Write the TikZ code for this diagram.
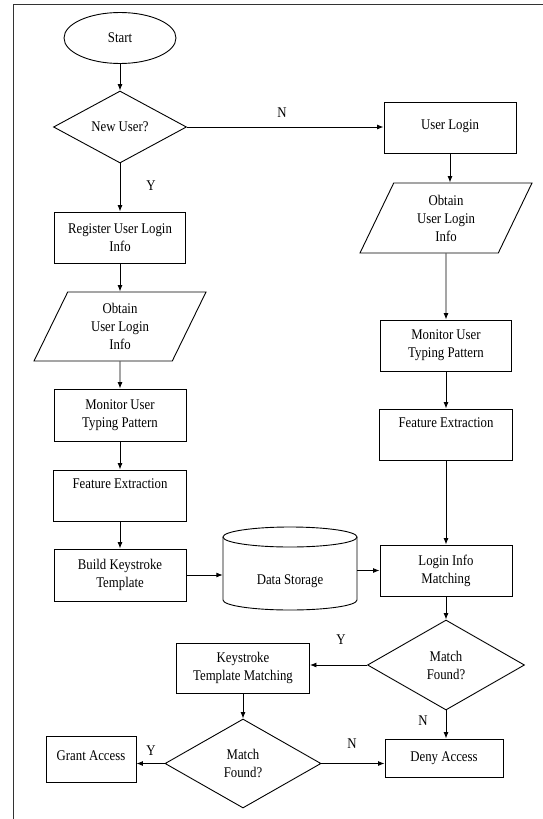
\documentclass[tikz,border=0pt]{standalone}
\usepackage{fontspec}
\setmainfont{Liberation Serif}[FakeStretch=0.865]
\usetikzlibrary{shapes.geometric,arrows.meta}
\begin{document}
\begin{tikzpicture}[x=1pt,y=-1pt,
  every node/.style={font=\fontsize{14.8}{18}\selectfont, inner sep=1pt},
  box/.style={draw, line width=0.9pt, align=center},
  dia/.style={draw, diamond, line width=0.9pt, align=center, inner sep=0pt},
  para/.style={draw, trapezium, trapezium left angle=54, trapezium right angle=126,
    trapezium stretches body, line width=0.9pt, align=center, inner sep=0pt},
  arr/.style={line width=0.9pt, -{Latex[length=6.5pt,width=5pt]}},
  lbl/.style={inner sep=0pt}]
\useasboundingbox (0,0) rectangle (543,819);
\draw[line width=1.1pt, black!80] (543,4.5) -- (13.5,4.5) -- (13.5,819);

\node[draw, ellipse, line width=0.9pt, minimum width=112pt, minimum height=51pt] (start) at (120,38) {Start};
\node[dia, minimum width=133pt, minimum height=72pt] (newu) at (120,127) {New User?};
\node[box, minimum width=132pt, minimum height=51pt] (ulogin) at (450,127.5) {\raisebox{5pt}{User Login}};
\node[para, minimum width=172pt, minimum height=70pt] (rpara) at (446,218) {Obtain\\User Login\\Info};
\node[box, minimum width=131pt, minimum height=51pt] (reg) at (120,237.5) {Register User Login\\Info};
\node[para, minimum width=172pt, minimum height=69pt] (lpara) at (120,326.5) {Obtain\\User Login\\Info};
\node[box, minimum width=132pt, minimum height=52pt] (lmon) at (120,415) {Monitor User\\Typing Pattern};
\node[box, minimum width=131pt, minimum height=51pt] (rmon) at (446,345.5) {Monitor User\\Typing Pattern};
\node[box, minimum width=133pt, minimum height=51pt] (lfeat) at (120,495.5) {Feature Extraction\\\strut};
\node[box, minimum width=133pt, minimum height=51pt] (rfeat) at (446,434.5) {Feature Extraction\\\strut};
\node[box, minimum width=132pt, minimum height=52pt] (build) at (120,575) {Build Keystroke\\Template};
\node[minimum width=134pt, minimum height=83pt, inner sep=0pt] (ds) at (290,568.5) {};
\node (dstext) at (290,581) {Data Storage};
\node[box, minimum width=132pt, minimum height=51pt] (lim) at (446,570.5) {Login Info\\Matching};
\node[dia, minimum width=157pt, minimum height=90pt] (rmf) at (446,665) {Match\\Found?};
\node[box, minimum width=133pt, minimum height=50pt] (ktm) at (243,668) {Keystroke\\Template Matching};
\node[dia, minimum width=156pt, minimum height=89pt] (lmf) at (243,763.5) {Match\\Found?};
\node[box, minimum width=90pt, minimum height=46pt] (grant) at (91,759) {\raisebox{6pt}{Grant Access}};
\node[box, minimum width=118pt, minimum height=38pt] (deny) at (444,758) {Deny Access};

% cylinder
\draw[line width=0.9pt] (290,537) ellipse[x radius=67, y radius=10];
\draw[line width=0.9pt] (223,537) -- (223,600) arc[start angle=180, end angle=0, x radius=67, y radius=10] -- (357,537);

% connectors
\draw[arr] (start) -- (newu);
\draw[arr] (newu.east) -- (newu.east -| ulogin.west);
\node[lbl] (nlab1) at (282,113) {N};
\draw[arr] (newu) -- (reg);
\node[lbl] (ylab1) at (151,186) {Y};
\draw[arr] (reg) -- (lpara);
\draw[arr] (lpara) -- (lmon);
\draw[arr] (lmon) -- (lfeat);
\draw[arr] (lfeat) -- (build);
\draw[arr] (ulogin.south) -- (ulogin.south |- rpara.north);
\draw[arr] (rpara) -- (rmon);
\draw[arr] (rmon) -- (rfeat);
\draw[arr] (rfeat) -- (lim);
\draw[arr] (lim) -- (rmf);
\draw[arr] (rmf.south) -- (rmf.south |- deny.north);
\node[lbl] (nlab3) at (423,721) {N};
\draw[arr] (build.east) -- (build.east -| ds.west);
\draw[arr] (ds.east |- lim.west) -- (lim.west);
\draw[arr] (rmf.west) -- (rmf.west -| ktm.east);
\node[lbl] (ylab2) at (341,640) {Y};
\draw[arr] (ktm) -- (lmf);
\draw[arr] (lmf.west) -- (lmf.west -| grant.east);
\node[lbl] (ylab3) at (151,751) {Y};
\draw[arr] (lmf.east) -- (lmf.east -| deny.west);
\node[lbl] (nlab2) at (352,744) {N};
\end{tikzpicture}
\end{document}
